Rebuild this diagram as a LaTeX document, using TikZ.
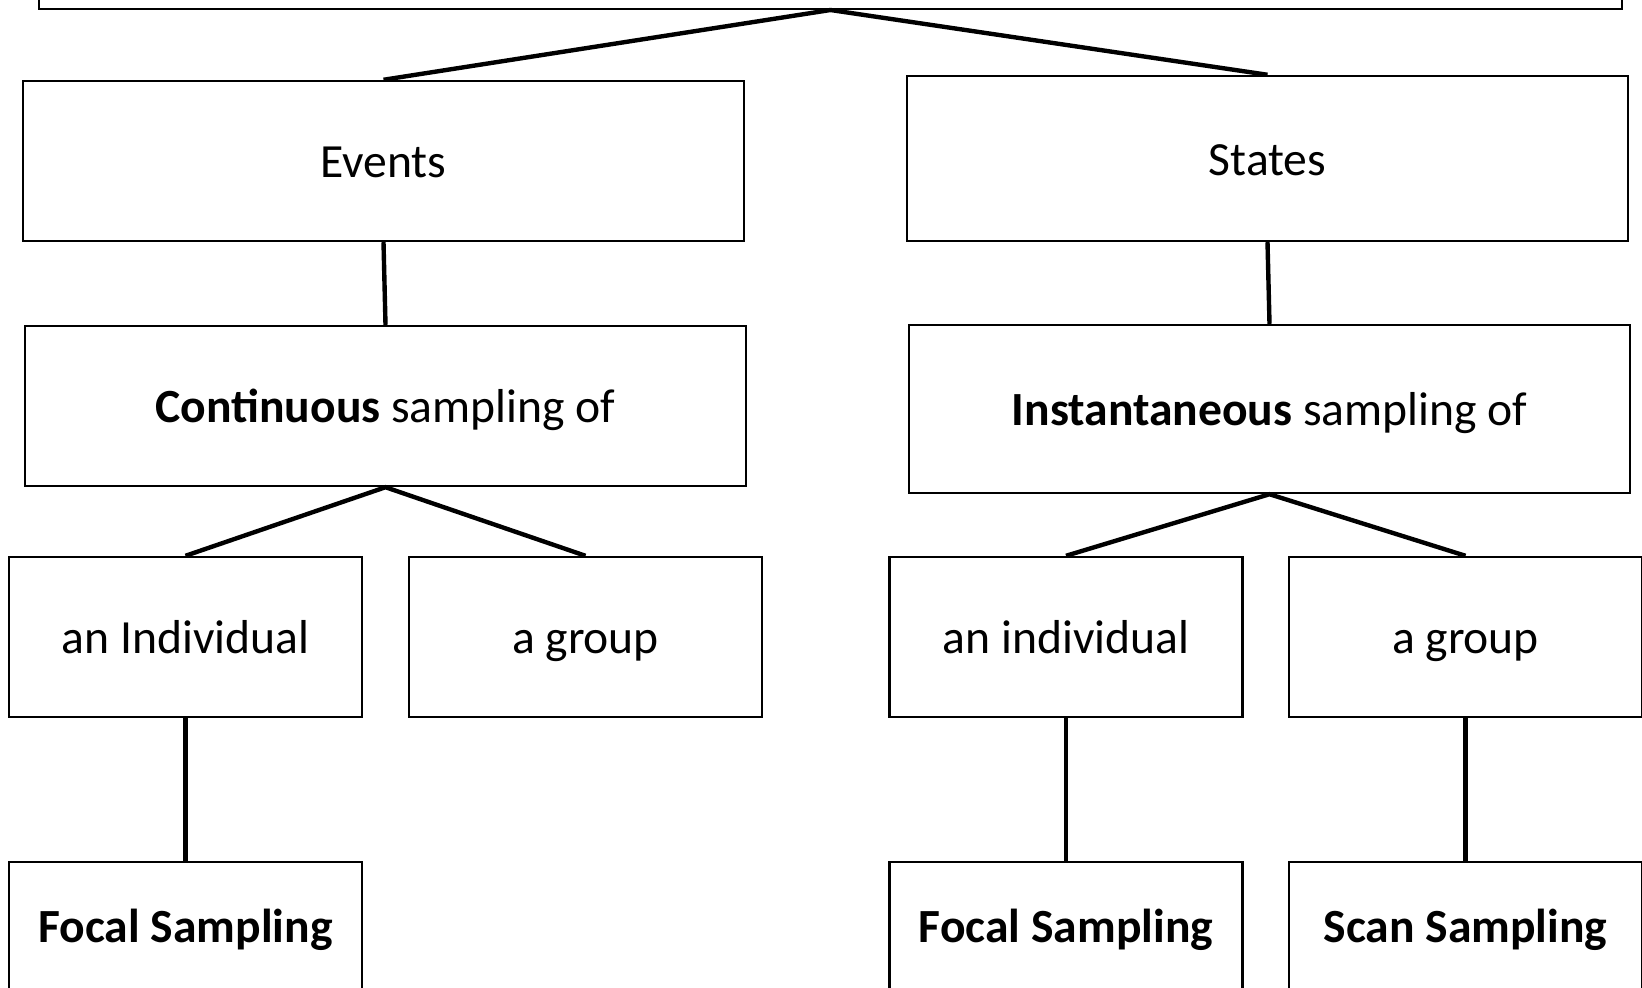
\documentclass[tikz,border=0pt]{standalone}
\usepackage{fontspec}
\setmainfont{Carlito}
\begin{document}
\begin{tikzpicture}[x=0.02cm,y=-0.02cm,
	boite/.style={draw,line width=1.4pt,inner sep=0pt,text height=19pt,text depth=0pt,font=\fontsize{27.1}{32}\selectfont},
	large/.style={minimum width=14.42cm},
	petite/.style={minimum width=7.06cm,minimum height=3.2cm},
	trait/.style={line width=2.5pt}]
				\useasboundingbox (0,0) rectangle (1642,987);
				\clip (0,0) rectangle (1642,987);
				% Boîtes
				\node [boite,line width=1.1pt,anchor=south,minimum width=31.66cm,minimum height=4cm] (racine) at (830.5,10) {};
				\node [boite,large,minimum height=3.2cm] (events) at (383.5,161) {Events};
				\node [boite,large,minimum height=3.3cm] (states) at (1267.5,158.5) {States};
				\node [boite,large,minimum height=3.2cm] (continu) at (385.5,406) {\textbf{Continuous} sampling of};
				\node [boite,large,minimum height=3.36cm] (instant) at (1269.5,409) {\textbf{Instantaneous} sampling of};
				\node [boite,petite] (indivA) at (185.5,637) {an Individual};
				\node [boite,petite] (groupeA) at (585.5,637) {a group};
				\node [boite,petite] (indivB) at (1066,637) {an individual};
				\node [boite,petite] (groupeB) at (1465.5,637) {a group};
				\node [boite,minimum width=7.06cm,minimum height=2.56cm] (focalA) at (185.5,926) {\textbf{Focal Sampling}};
				\node [boite,minimum width=7.06cm,minimum height=2.56cm] (focalB) at (1066,926) {\textbf{Focal Sampling}};
				\node [boite,minimum width=7.06cm,minimum height=2.56cm] (scan) at (1465.5,926) {\textbf{Scan Sampling}};
				% Traits
				\draw [trait] (events.north) -- (racine.south) -- (states.north);
				\draw [trait] (events.south) -- (continu.north);
				\draw [trait] (states.south) -- (instant.north);
				\draw [trait] (indivA.north) -- (continu.south) -- (groupeA.north);
				\draw [trait] (indivB.north) -- (instant.south) -- (groupeB.north);
				\draw [trait] (indivA.south) -- (focalA.north);
				\draw [trait] (indivB.south) -- (focalB.north);
				\draw [trait] (groupeB.south) -- (scan.north);
\end{tikzpicture}
\end{document}
